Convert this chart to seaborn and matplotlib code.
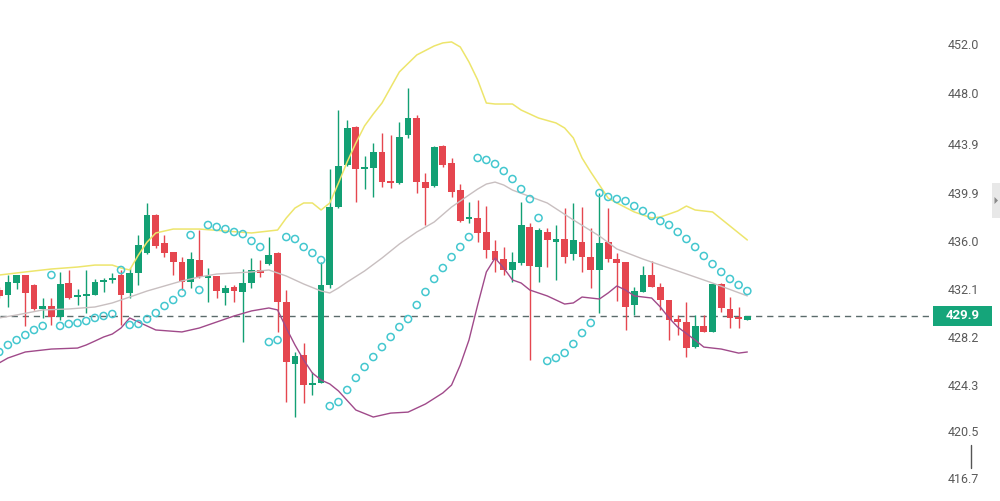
import numpy as np
import matplotlib
matplotlib.use("Agg")
import matplotlib.pyplot as plt
import seaborn as sns
from matplotlib.patches import Rectangle, Polygon
from matplotlib.lines import Line2D
from matplotlib.transforms import blended_transform_factory

# ---- OHLC candles ----
opens = [431.99, 431.59, 432.56, 433.21, 432.40, 430.45, 430.69, 429.80, 432.56, 431.42,
         431.51, 431.59, 432.64, 432.81, 433.21, 431.75, 433.38, 435.00, 438.09, 435.81,
         435.08, 434.27, 432.64, 434.43, 432.97, 433.13, 431.75, 432.24, 431.83, 432.56,
         433.62, 434.10, 435.00, 431.02, 425.97, 426.70, 424.26, 424.43, 432.40, 438.74,
         442.16, 445.25, 441.83, 441.91, 443.22, 440.84, 440.68, 444.60, 445.98, 440.76,
         440.45, 443.70, 442.32, 440.12, 437.77, 437.85, 436.71, 435.16, 434.51, 433.62,
         434.18, 437.12, 433.86, 436.71, 435.89, 436.14, 434.92, 435.89, 434.67, 433.62,
         435.89, 434.51, 434.27, 430.77, 431.83, 433.21, 432.24, 431.18, 429.63, 429.39,
         427.35, 429.07, 428.58, 432.48, 430.45, 429.72, 429.55]
highs = [432.24, 433.21, 433.25, 433.25, 432.45, 431.34, 431.34, 433.46, 433.62, 432.07,
         433.62, 432.89, 432.97, 433.38, 433.62, 433.78, 436.46, 439.07, 438.15, 436.46,
         435.10, 434.67, 435.08, 436.87, 433.78, 433.15, 432.40, 432.40, 433.70, 434.59,
         434.43, 436.30, 435.05, 431.99, 426.95, 427.68, 425.32, 434.27, 441.83, 446.63,
         445.82, 445.33, 442.89, 443.95, 444.76, 444.60, 445.66, 448.42, 446.23, 441.51,
         443.70, 443.79, 442.73, 440.60, 439.15, 439.31, 438.82, 436.06, 435.49, 435.08,
         439.15, 437.44, 437.04, 437.04, 437.28, 438.66, 439.07, 438.74, 437.04, 439.88,
         438.66, 435.00, 434.30, 432.24, 433.94, 434.35, 432.56, 431.20, 429.96, 431.02,
         429.96, 429.96, 432.50, 432.56, 431.42, 430.61, 429.90]
lows = [431.34, 430.61, 432.07, 429.07, 430.40, 429.72, 429.15, 429.55, 431.30, 430.77,
        430.12, 431.55, 431.83, 432.56, 429.15, 431.34, 432.40, 434.95, 435.41, 434.67,
        433.21, 431.99, 432.16, 432.97, 431.02, 431.34, 430.77, 431.02, 427.76, 432.16,
        433.05, 434.05, 428.58, 422.88, 421.66, 422.79, 423.45, 424.40, 432.16, 438.70,
        442.10, 439.15, 440.19, 439.56, 440.35, 440.27, 440.65, 444.35, 439.88, 437.28,
        440.40, 441.99, 439.56, 437.55, 437.44, 435.89, 434.59, 433.46, 433.21, 432.64,
        434.02, 426.30, 432.64, 433.86, 432.81, 434.18, 434.43, 433.46, 432.16, 430.12,
        434.27, 431.10, 428.74, 429.96, 431.80, 432.20, 430.37, 427.92, 428.33, 426.54,
        427.30, 428.55, 428.55, 430.20, 428.90, 428.90, 429.55]
closes = [431.51, 432.64, 433.21, 431.75, 430.45, 430.69, 429.80, 432.48, 431.34, 431.51,
          431.59, 432.64, 432.72, 432.89, 431.59, 433.38, 435.65, 438.09, 435.57, 435.00,
          434.27, 432.64, 434.51, 433.05, 433.13, 431.91, 432.16, 431.91, 432.56, 433.62,
          433.38, 434.84, 431.02, 426.14, 426.62, 424.26, 424.43, 432.40, 438.74, 442.07,
          445.17, 441.83, 441.91, 443.22, 440.76, 440.68, 444.44, 445.98, 440.76, 440.29,
          443.62, 442.16, 439.96, 437.60, 437.93, 436.63, 435.25, 434.43, 433.62, 434.27,
          437.28, 433.94, 436.87, 436.06, 436.14, 434.67, 436.06, 434.67, 433.62, 435.81,
          434.51, 434.18, 430.61, 431.91, 433.21, 432.24, 431.18, 429.55, 429.39, 427.27,
          429.07, 428.58, 432.48, 430.53, 429.72, 429.63, 429.90]

# ---- Parabolic SAR, one value per candle ----
sar = [426.95, 427.52, 427.92, 428.33, 428.74, 429.07, 433.21, 429.07, 429.23, 429.31,
       429.47, 429.72, 429.88, 430.04, 433.62, 429.15, 429.23, 429.63, 430.12, 430.69,
       431.18, 431.75, 436.46, 431.99, 437.28, 437.12, 436.95, 436.71, 436.54, 435.98,
       435.49, 427.76, 427.92, 436.30, 436.14, 435.49, 435.00, 434.43, 422.55, 422.88,
       423.86, 424.84, 425.73, 426.54, 427.35, 428.17, 428.98, 429.63, 430.77, 431.83,
       432.89, 433.78, 434.67, 435.49, 436.30, 442.73, 442.57, 442.24, 441.67, 441.02,
       440.20, 439.39, 437.85, 426.22, 426.46, 426.87, 427.60, 428.49, 429.31, 439.88,
       439.56, 439.39, 439.23, 438.82, 438.42, 438.01, 437.60, 437.28, 436.71, 436.14,
       435.49, 434.76, 434.10, 433.46, 432.89, 432.40, 431.91]

# ---- Bollinger bands (candle index -> level) ----
upper_idx = [0, 3, 6, 9, 11, 13, 14, 15, 16, 17, 18, 20, 23, 26, 29, 32, 33, 34, 35, 36,
             37, 38, 39, 40, 41, 42, 43, 44, 46, 48, 50, 51, 52, 53, 54, 55, 56, 57, 59, 60,
             62, 64, 65, 66, 67, 68, 69, 70, 71, 73, 75, 76, 77, 78, 79, 80, 81, 82, 83, 84,
             85, 86]
upper_val = [433.21, 433.46, 433.70, 433.86, 434.02, 434.02, 433.78, 433.62, 434.84, 435.89,
             436.63, 436.95, 436.95, 436.79, 436.63, 436.87, 437.85, 438.66, 439.07, 439.07,
             438.50, 439.07, 440.69, 442.41, 443.95, 445.34, 446.31, 447.20, 449.73, 451.11,
             451.84, 452.09, 452.17, 451.76, 450.54, 449.08, 447.20, 447.12, 447.12, 446.63,
             445.98, 445.58, 445.17, 444.36, 442.73, 441.59, 440.53, 439.47, 439.07, 438.34,
             437.85, 437.93, 438.17, 438.42, 438.82, 438.50, 438.42, 438.34, 437.77, 437.20,
             436.63, 436.06]
mid_idx = [0, 2, 5, 8, 11, 13, 15, 17, 19, 21, 23, 25, 29, 31, 33, 35, 37, 38, 39, 40,
           42, 44, 46, 48, 50, 52, 54, 55, 56, 57, 58, 59, 63, 66, 69, 71, 74, 78, 82, 86]
mid_val = [429.72, 429.96, 430.37, 430.45, 430.61, 430.94, 431.42, 431.91, 432.32, 432.73,
           433.05, 433.29, 433.46, 433.62, 433.13, 432.48, 431.91, 431.75, 432.16, 432.64,
           433.54, 434.59, 435.73, 436.71, 437.52, 438.74, 439.72, 440.20, 440.61, 440.77,
           440.53, 440.12, 439.07, 437.69, 436.38, 435.33, 434.51, 433.54, 432.56, 431.51]
lower_idx = [0, 1, 3, 6, 9, 10, 11, 12, 13, 14, 15, 16, 18, 21, 23, 25, 27, 29, 31, 32,
             33, 34, 35, 36, 37, 38, 39, 41, 43, 45, 47, 49, 51, 52, 53, 54, 55, 56, 57, 58,
             59, 60, 61, 63, 65, 66, 67, 69, 70, 71, 72, 73, 75, 76, 77, 78, 80, 81, 83, 85,
             86]
lower_val = [426.06, 426.46, 426.95, 427.19, 427.27, 427.52, 427.84, 428.17, 428.41, 428.90,
             429.72, 429.39, 428.74, 428.58, 428.90, 429.39, 429.88, 430.29, 430.53, 430.37,
             428.90, 427.52, 426.30, 425.24, 424.67, 424.35, 423.78, 422.23, 421.66, 421.98,
             422.06, 422.72, 423.62, 424.26, 425.89, 427.92, 430.77, 433.46, 434.59, 433.78,
             432.81, 432.56, 431.99, 431.51, 430.85, 430.94, 431.42, 431.26, 431.75, 432.32,
             431.99, 431.51, 431.34, 430.61, 429.72, 428.98, 427.92, 427.35, 427.19, 426.86,
             426.95]

# ---- price axis ----
price_ticks = [452.0, 448.0, 443.9, 439.9, 436.0, 432.1, 428.2, 424.3, 420.5, 416.7]
price_labels = ["452.0", "448.0", "443.9", "439.9", "436.0", "432.1", "428.2", "424.3",
                "420.5", "416.7"]
last_price = 429.9
last_label = "429.9"

UP = "#13a074"
DOWN = "#e5464f"
SAR_C = "#43c7cf"

sns.set_theme(style="white")
plt.rcParams["font.family"] = ["Roboto", "DejaVu Sans"]

fig = plt.figure(figsize=(10, 5.01), dpi=100)
fig.patch.set_facecolor("white")
ax = fig.add_axes([0, 0, 0.93, 1])
ax.set_facecolor("white")

o = np.array(opens)
h = np.array(highs)
l = np.array(lows)
c = np.array(closes)
x = np.arange(len(o))
colors = np.where(c >= o, UP, DOWN)

# wicks and bodies
ax.vlines(x, l, h, colors=colors, linewidth=1.0, zorder=2)
body_lo = np.minimum(o, c)
body_h = np.maximum(np.abs(c - o), 0.13)
ax.bar(x, body_h, bottom=body_lo, width=0.78, color=colors, linewidth=0, zorder=3)

# bands
sns.lineplot(x=upper_idx, y=upper_val, ax=ax, color="#ede56c", linewidth=1.1, zorder=4)
sns.lineplot(x=mid_idx, y=mid_val, ax=ax, color="#c8bfc0", linewidth=1.0, zorder=4)
sns.lineplot(x=lower_idx, y=lower_val, ax=ax, color="#a04a8a", linewidth=1.0, zorder=4)

# SAR rings
sns.scatterplot(x=x, y=sar, ax=ax, marker="o", s=26, color=SAR_C,
                facecolor="none", edgecolor=SAR_C, linewidth=1.1, zorder=5)

# last price dashed guide
ax.axhline(last_price, xmin=0, xmax=1.004, color="#5b6b6b", linewidth=1.0,
           dashes=(4.5, 3.5), zorder=1, clip_on=False)

ax.set_xlim(0.09, 107.0)
ax.set_ylim(414.83, 455.58)
ax.set_xticks([])
ax.yaxis.tick_right()
ax.set_yticks(price_ticks)
ax.set_yticklabels(price_labels)
ax.tick_params(axis="y", length=0, pad=13, labelsize=9, labelcolor="#5a5a5a")
for s in ax.spines.values():
    s.set_visible(False)
ax.set_xlabel("")
ax.set_ylabel("")
leg = ax.get_legend()
if leg is not None:
    leg.remove()

# last price tag
blend = blended_transform_factory(fig.transFigure, ax.transData)
ax.add_patch(Rectangle((0.933, last_price - 0.81), 0.059, 1.62, transform=blend,
                       facecolor="#15a57a", edgecolor="none", clip_on=False, zorder=6))
ax.text(0.9625, last_price, last_label, transform=blend, ha="center", va="center",
        color="white", fontsize=9.5, fontweight="bold", zorder=7, clip_on=False)

# side handle on the right edge
fig.add_artist(Rectangle((0.992, 1 - 218 / 501), 0.008, 35 / 501,
                         transform=fig.transFigure, facecolor="#e8e8e8", edgecolor="none"))
fig.add_artist(Polygon([(0.9945, 1 - 197 / 501), (0.9945, 1 - 204 / 501), (0.998, 1 - 200.5 / 501)],
                       closed=True, transform=fig.transFigure, facecolor="#8a8a8a",
                       edgecolor="none"))
# small cursor mark near the bottom
fig.add_artist(Line2D([0.971, 0.971], [1 - 445 / 501, 1 - 468 / 501],
                      transform=fig.transFigure, color="#555555", linewidth=1.0))

fig.savefig("out.png", dpi=100, facecolor="white")
